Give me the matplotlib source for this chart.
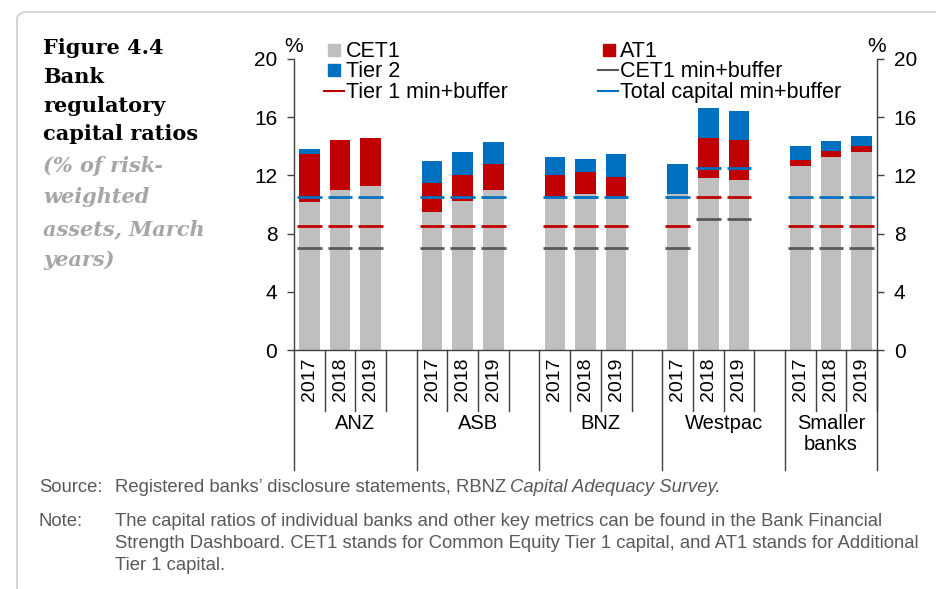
import matplotlib
matplotlib.use("Agg")
import matplotlib.pyplot as plt
from matplotlib.lines import Line2D
from matplotlib.patches import FancyBboxPatch
import matplotlib.transforms as mtransforms

# ---------------- data ----------------
groups = ["ANZ", "ASB", "BNZ", "Westpac", "Smaller\nbanks"]
years = ["2017", "2018", "2019"]
cet1 = [10.2, 11.0, 11.3, 9.5, 10.25, 11.0, 10.5, 10.7, 10.5, 10.7, 11.8, 11.7, 12.65, 13.25, 13.6]
at1 = [3.3, 3.4, 3.3, 2.0, 1.8, 1.8, 1.5, 1.5, 1.4, 0.0, 2.75, 2.75, 0.4, 0.4, 0.4]
tier2 = [0.3, 0.0, 0.0, 1.5, 1.55, 1.5, 1.25, 0.9, 1.6, 2.1, 2.05, 2.0, 1.0, 0.7, 0.7]
cet1_min = [7, 7, 7, 7, 7, 7, 7, 7, 7, 7, 9, 9, 7, 7, 7]
tier1_min = [8.5, 8.5, 8.5, 8.5, 8.5, 8.5, 8.5, 8.5, 8.5, 8.5, 10.5, 10.5, 8.5, 8.5, 8.5]
total_min = [10.5, 10.5, 10.5, 10.5, 10.5, 10.5, 10.5, 10.5, 10.5, 10.5, 12.5, 12.5, 10.5, 10.5, 10.5]
yticks = [0, 4, 8, 12, 16, 20]
legend_labels = ["CET1", "Tier 2", "Tier 1 min+buffer", "AT1", "CET1 min+buffer",
                 "Total capital min+buffer"]

C_GREY = "#BFBFBF"
C_RED = "#C00000"
C_BLUE = "#0070C0"
C_DGREY = "#595959"
SANS = "Liberation Sans"
FS = 15
AXC = "#404040"

W, H = 937, 589
fig = plt.figure(figsize=(W / 100, H / 100), dpi=100)

def fx(px):
    return px / W

def fy(py):
    return 1 - py / H

# frame
frame = FancyBboxPatch((fx(17), fy(600)), fx(1000), fy(12) - fy(600),
                       boxstyle="round,pad=0,rounding_size=0.012",
                       transform=fig.transFigure, facecolor="none",
                       edgecolor="#D6D6D6", linewidth=1.5, clip_on=False)
fig.patches.append(frame)

# axes
ax = fig.add_axes([fx(294), fy(350), fx(877) - fx(294), fy(59) - fy(350)])
pos = [g * 4 + k for g in range(len(groups)) for k in range(len(years))]
bw = 0.67
b1 = [c + a for c, a in zip(cet1, at1)]
ax.bar(pos, cet1, width=bw, color=C_GREY, zorder=2)
ax.bar(pos, at1, width=bw, bottom=cet1, color=C_RED, zorder=2)
ax.bar(pos, tier2, width=bw, bottom=b1, color=C_BLUE, zorder=2)
hw = 0.4
xmin = [p - hw for p in pos]
xmax = [p + hw for p in pos]
ax.hlines(cet1_min, xmin, xmax, color=C_DGREY, lw=2, zorder=3)
ax.hlines(tier1_min, xmin, xmax, color=C_RED, lw=2, zorder=3)
ax.hlines(total_min, xmin, xmax, color=C_BLUE, lw=2, zorder=3)

x_lo, x_hi = -0.5, 18.5
ax.set_xlim(x_lo, x_hi)
ax.set_ylim(0, 20)
ax.set_yticks(yticks)
ax.set_yticklabels([str(t) for t in yticks], fontsize=FS, family=SANS)
ax.tick_params(axis="y", which="both", direction="out", length=5, width=1,
               color=AXC, left=True, right=True, labelleft=True, labelright=True, pad=7)
ax.set_xticks([])
ax.spines["top"].set_visible(False)
for s in ["left", "right", "bottom"]:
    ax.spines[s].set_color(AXC)
    ax.spines[s].set_linewidth(1)

# category axis
trans = mtransforms.blended_transform_factory(ax.transData, ax.transAxes)
ppx = 291.0
short_y = -61 / ppx
long_y = -120 / ppx
for g in range(len(groups)):
    base = g * 4
    left = base - 0.5
    right = min(base + 3.5, x_hi)
    ax.plot([left, left], [0, long_y], transform=trans, color=AXC,
            lw=1, clip_on=False)
    for k in range(len(years)):
        ax.plot([base + k + 0.5] * 2, [0, short_y], transform=trans, color=AXC,
                lw=1, clip_on=False)
        ax.text(base + k, -29 / ppx, years[k], rotation=90, ha="center", va="center",
                transform=trans, fontsize=14, family=SANS)
    for li, line in enumerate(groups[g].split("\n")):
        ax.text((left + right) / 2, -(79 + 21 * li) / ppx, line, ha="center", va="baseline",
                transform=trans, fontsize=14.5, family=SANS)
ax.plot([x_hi, x_hi], [0, long_y], transform=trans, color=AXC, lw=1, clip_on=False)

# % labels
fig.text(fx(294), fy(52), "%", ha="center", va="baseline", fontsize=FS, family=SANS)
fig.text(fx(877), fy(52), "%", ha="center", va="baseline", fontsize=FS, family=SANS)

# legend (manual layout, two columns)
LFS = 15.5
leg_colors = [C_GREY, C_BLUE, C_RED, C_RED, C_DGREY, C_BLUE]
leg_kind = ["sq", "sq", "ln", "sq", "ln", "ln"]
col_x = [(334, 324, 344, 346), (609, 598, 618, 620)]  # square centre, line x0, line x1, text x
row_y = [49.7, 70.0, 90.7]
for i, lab in enumerate(legend_labels):
    c, r_ = divmod(i, 3)
    sqx, lx0, lx1, tx = col_x[c]
    yc = row_y[r_]
    if leg_kind[i] == "sq":
        fig.add_artist(Line2D([fx(sqx)], [fy(yc)], ls="none", marker="s", ms=8.2,
                              color=leg_colors[i], transform=fig.transFigure))
    else:
        fig.add_artist(Line2D([fx(lx0), fx(lx1)], [fy(yc), fy(yc)], lw=1.5,
                              color=leg_colors[i], transform=fig.transFigure))
    fig.text(fx(tx), fy(yc + 7), lab, ha="left", va="baseline", fontsize=LFS, family=SANS)

# title block
title_lines = ["Figure 4.4", "Bank", "regulatory", "capital ratios"]
title_base = [53.5, 83, 111.5, 140]
for t, yb in zip(title_lines, title_base):
    fig.text(fx(43), fy(yb), t, ha="left", va="baseline", fontsize=15,
             family="DejaVu Serif", weight="bold", color="black")
sub_lines = ["(% of risk-", "weighted", "assets, March", "years)"]
sub_base = [172, 203, 235, 266]
for t, yb in zip(sub_lines, sub_base):
    fig.text(fx(43), fy(yb), t, ha="left", va="baseline", fontsize=15,
             family="DejaVu Serif", weight="bold", style="italic", color="#A6A6A6")

# footer
FC = "#595959"
FF = 13.3
fig.text(fx(39), fy(487), "Source:", ha="left", va="center", fontsize=FF, family=SANS, color=FC)
t1 = fig.text(fx(115), fy(487), "Registered banks\u2019 disclosure statements, RBNZ",
              ha="left", va="center", fontsize=FF, family=SANS, color=FC)
r = fig.canvas.get_renderer()
x1 = t1.get_window_extent(r).x1 + 4
fig.text(x1 / W, fy(487), "Capital Adequacy Survey.", ha="left", va="center",
         fontsize=FF, family=SANS, color=FC, style="italic")
fig.text(fx(39), fy(521), "Note:", ha="left", va="center", fontsize=FF, family=SANS, color=FC)
note_lines = ["The capital ratios of individual banks and other key metrics can be found in the Bank Financial",
              "Strength Dashboard. CET1 stands for Common Equity Tier 1 capital, and AT1 stands for Additional",
              "Tier 1 capital."]
for t, yy in zip(note_lines, [521, 543, 565]):
    fig.text(fx(115), fy(yy), t, ha="left", va="center", fontsize=FF, family=SANS, color=FC)

fig.savefig("out.png", dpi=100)
